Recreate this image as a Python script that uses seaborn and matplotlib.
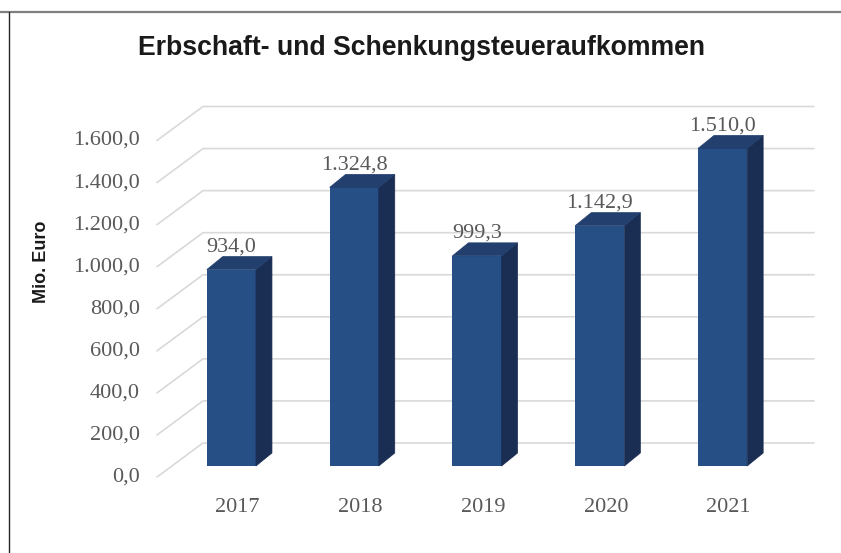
import pandas as pd
import matplotlib.pyplot as plt
import seaborn as sns
from matplotlib import transforms
from matplotlib.lines import Line2D
from matplotlib.patches import Polygon

years = ["2017", "2018", "2019", "2020", "2021"]
revenue = [934.0, 1324.8, 999.3, 1142.9, 1510.0]
y_ticks = [0, 200, 400, 600, 800, 1000, 1200, 1400, 1600]

FRONT = "#264f86"
SIDE = "#1a2d53"
TOP = "#223f6e"
GRID = "#d9d9d9"
TEXT = "#595959"


def de_fmt(v):
    return f"{v:,.1f}".replace(",", "X").replace(".", ",").replace("X", ".")


sns.set_theme(style="white")
plt.rcParams["font.family"] = ["Liberation Serif", "DejaVu Serif"]

fig = plt.figure(figsize=(8.41, 5.53), dpi=100)
ax = fig.add_axes([170 / 841, 87 / 553, 614 / 841, 336.5 / 553])
ax.set_facecolor("none")

df = pd.DataFrame({"Jahr": years, "Wert": revenue})
sns.barplot(data=df, x="Jahr", y="Wert", color=FRONT, saturation=1,
            width=0.4, linewidth=0, ax=ax, zorder=3)
ax.set_xlim(-0.5, len(years) - 0.5)
ax.set_ylim(0, 1600)
for s in ax.spines.values():
    s.set_visible(False)


def shift(x, y, dxp, dyp):
    px, py = ax.transData.transform((x, y))
    return ax.transData.inverted().transform((px + dxp, py + dyp))


def px_offset(dx, dy):
    return transforms.ScaledTranslation(dx / 100, dy / 100, fig.dpi_scale_trans)


# perspective grid: floor diagonal + back wall line
x_left, x_right = -0.5, len(years) - 0.5
for v in y_ticks:
    p0 = shift(x_left, v, -13, -11)
    p1 = shift(x_left, v, 33, 23)
    p2 = shift(x_right, v, 30, 23)
    ax.plot([p0[0], p1[0], p2[0]], [p0[1], p1[1], p2[1]], color=GRID,
            lw=1.2, clip_on=False, zorder=1)
    ax.text(x_left, v, de_fmt(v), transform=ax.transData + px_offset(-30, -11),
            ha="right", va="center", fontsize=16, color=TEXT)

# 3D faces of the bars
dx, dy = 16, 13
for patch, v in zip(ax.patches, revenue):
    x0 = patch.get_x()
    x1 = x0 + patch.get_width()
    h = patch.get_height()
    side = [(x1, 0), (x1, h), shift(x1, h, dx, dy), shift(x1, 0, dx, dy)]
    top = [(x0, h), (x1, h), shift(x1, h, dx, dy), shift(x0, h, dx, dy)]
    ax.add_patch(Polygon(side, closed=True, facecolor=SIDE, edgecolor=SIDE,
                         lw=0.5, clip_on=False, zorder=3))
    ax.add_patch(Polygon(top, closed=True, facecolor=TOP, edgecolor=TOP,
                         lw=0.5, clip_on=False, zorder=3))
    ax.annotate(de_fmt(v), ((x0 + x1) / 2, h), xytext=(0, 13),
                textcoords="offset pixels", ha="center", va="bottom",
                fontsize=16, color=TEXT, zorder=4)

ax.set_yticks(y_ticks)
ax.set_yticklabels([])
ax.tick_params(axis="y", length=0)
ax.tick_params(axis="x", length=0, pad=23, labelsize=16, labelcolor=TEXT)
for lab in ax.get_xticklabels():
    lab.set_transform(lab.get_transform() + px_offset(6, 0))
ax.set_xlabel("")
ax.set_ylabel("")

fig.text(42 / 841, 1 - 262 / 553, "Mio. Euro", rotation=90, ha="center",
         va="center", fontsize=13, fontweight="bold", family="Liberation Sans",
         color="#1a1a1a")
fig.text(422 / 841, 1 - 48 / 553, "Erbschaft- und Schenkungsteueraufkommen",
         ha="center", va="center", fontsize=19.2, fontweight="bold",
         family="Liberation Sans", color="#1a1a1a")

# chart frame (top and left edges)
fig.add_artist(Line2D([0, 1], [1 - 11.5 / 553] * 2, color="#7f7f7f", lw=1.6))
fig.add_artist(Line2D([8.5 / 841] * 2, [0, 1 - 11.5 / 553], color="#262626", lw=1))

fig.savefig("out.png", dpi=100)
